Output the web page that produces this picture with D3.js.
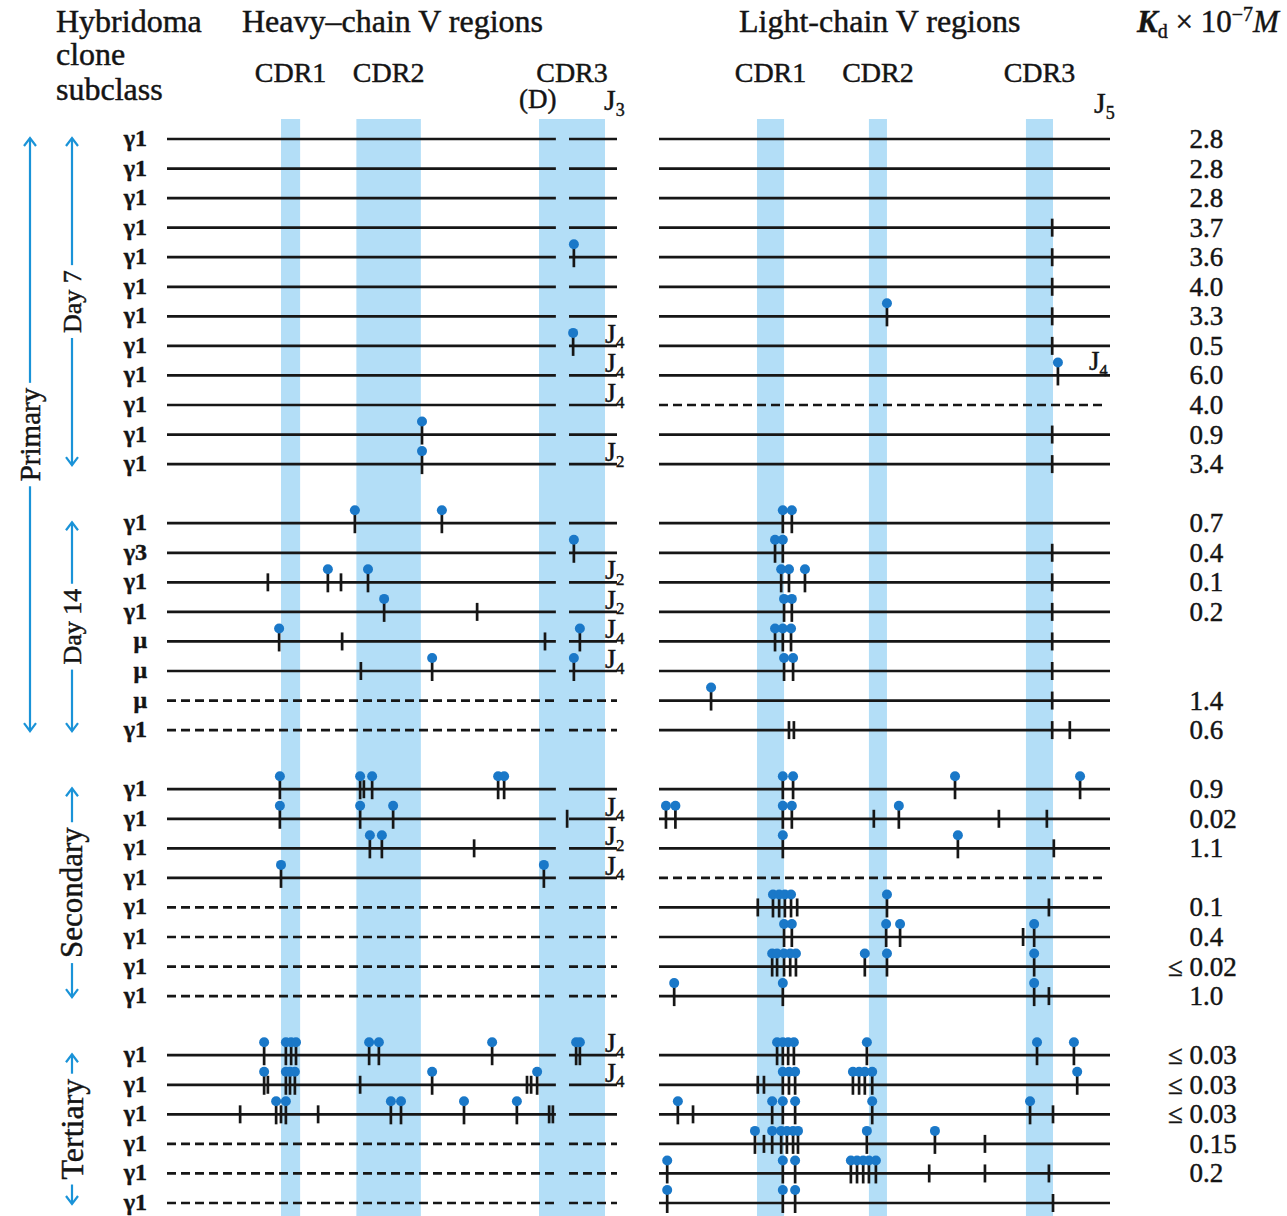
<!DOCTYPE html>
<html>
<head>
<meta charset="utf-8">
<script src="https://cdn.jsdelivr.net/npm/d3@7"></script>
<style>
  body { margin: 0; background: #fff; }
  svg { display: block; }
  text { font-family: "Liberation Serif", "Times New Roman", serif; fill: #141414; stroke: #141414; stroke-width: 0.45px; }
</style>
</head>
<body>
<svg id="chart" width="1287" height="1216"></svg>
<script>
// Hybridoma clones, one entry per row (top to bottom)
const subclasses = [
  'γ1','γ1','γ1','γ1','γ1','γ1','γ1','γ1','γ1','γ1','γ1','γ1',
  'γ1','γ3','γ1','γ1','μ','μ','μ','γ1',
  'γ1','γ1','γ1','γ1','γ1','γ1','γ1','γ1',
  'γ1','γ1','γ1','γ1','γ1','γ1'
];
const kdValues = [
  '2.8','2.8','2.8','3.7','3.6','4.0','3.3','0.5','6.0','4.0','0.9','3.4',
  '0.7','0.4','0.1','0.2','','','1.4','0.6',
  '0.9','0.02','1.1','','0.1','0.4','≤ 0.02','1.0',
  '≤ 0.03','≤ 0.03','≤ 0.03','0.15','0.2',''
];
const groupNames = ['Day 7', 'Day 14', 'Secondary', 'Tertiary'];
const groupSizes = [12, 8, 8, 6];

// rows whose sequence is only partly known (dashed)
const heavyDashed = [18, 19, 24, 25, 26, 27, 31, 32, 33];
const lightDashed = [9, 23];

// CDR positions along each V region (codon-like units)
const heavyCDR = [[30.4, 35.5], [50.5, 67.7], [99.2, 116.8]];
const lightCDR = [[23.9, 30.5], [51.2, 55.6], [89.5, 96.1]];
const heavyDGap = [103.7, 107.2];

// J segment used, when it differs from the header
const heavyJ = [[7, '4'], [8, '4'], [9, '4'], [11, '2'], [14, '2'], [15, '2'], [16, '4'], [17, '4'],
  [21, '4'], [22, '2'], [23, '4'], [28, '4'], [29, '4']];
const lightJ = [[8, '4']];

// replacement mutations (tick with dot) and silent mutations (plain tick)
const heavyR = [
  [], [], [], [], [108.5], [], [], [108.3], [], [], [68], [68],
  [50.1, 73.3], [108.5], [42.9, 53.6], [57.9], [29.9, 110.1], [70.7, 108.5], [], [],
  [30.1, 51.5, 54.7, 88.3, 89.9], [30.1, 51.5, 60.3], [54.1, 57.3], [30.4, 100.5], [], [], [], [],
  [25.9, 31.7, 33.1, 34.4, 53.9, 56.5, 86.7, 109.1, 110.1], [25.9, 31.7, 32.8, 34.1, 70.7, 98.7],
  [29.1, 31.7, 59.7, 62.4, 79.2, 93.3], [], [], []
];
const heavyS = [
  [], [], [], [], [], [], [], [], [], [], [], [],
  [], [], [26.9, 46.4], [82.7], [46.7, 100.8], [51.7], [], [],
  [52.5], [106.7], [81.9], [], [], [], [], [],
  [], [26.9, 51.5, 96, 97.1], [19.5, 30.4, 40.3, 101.9, 102.9], [], [], []
];
const lightR = [
  [], [], [], [], [], [], [55.6], [], [97.3], [], [], [],
  [30.2, 32.4], [28.3, 30.2], [29.8, 31.7, 35.6], [30.5, 32.4], [28.3, 30.2, 32.2], [30.5, 32.7], [12.7], [],
  [30.2, 32.7, 72.2, 102.7], [1.7, 4, 30.2, 32.4, 58.5], [30.2, 72.9], [], [27.8, 29.3, 30.7, 32.2, 55.6],
  [30.5, 32.4, 55.4, 58.8, 91.5], [27.6, 28.8, 30.5, 32, 33.4, 50.2, 55.6, 91.5], [3.7, 30.2, 91.5],
  [28.8, 30.2, 31.5, 32.9, 50.7, 92.2, 101.2], [30.2, 31.7, 33.2, 47.3, 48.8, 50.2, 52, 102],
  [4.6, 27.6, 30.2, 33.2, 52, 90.5], [23.4, 27.6, 29.8, 31.2, 32.7, 33.9, 50.7, 67.3],
  [2, 30.2, 33.2, 46.8, 48.3, 49.8, 51.2, 52.9], [2, 30.2, 33.2]
];
const lightS = [
  [], [], [], [95.9], [95.9], [95.9], [95.9], [95.9], [], [], [95.9], [95.9],
  [], [95.9], [95.9], [95.9], [95.9], [95.9], [95.9], [31.7, 32.9, 95.9, 100.2],
  [], [52.4, 82.9, 94.6], [96.3], [], [24.1, 33.7, 95.1], [88.8], [], [95.1],
  [], [24.1, 25.6], [8.3, 96.1], [25.6, 79.5], [65.9, 79.5, 95.1], [96.1]
];

const svg = d3.select('#chart');
const ink = '#161616';
const blue = '#1a93d8';

// one empty slot between groups
const rowSlot = [];
groupSizes.forEach((n, g) => {
  for (let i = 0; i < n; i++) rowSlot.push(rowSlot.length + g);
});

const y = d3.scaleLinear().domain([0, 36]).range([139, 1203]);
const rowY = r => y(rowSlot[r]);
const hx = d3.scaleLinear().domain([0, 120]).range([167, 617]);
const lx = d3.scaleLinear().domain([0, 110]).range([659, 1110]);

// CDR bands
const bands = svg.append('g');
const bandTop = 119, bandBottom = 1216;
[[heavyCDR, hx], [lightCDR, lx]].forEach(([cdrs, x]) => {
  bands.selectAll(null)
    .data(cdrs)
    .enter()
    .append('rect')
    .attr('x', d => x(d[0]))
    .attr('width', d => x(d[1]) - x(d[0]))
    .attr('y', bandTop)
    .attr('height', bandBottom - bandTop)
    .attr('fill', '#b3def7');
});

// sequence lines
const rows = d3.range(subclasses.length);
const lineG = svg.append('g').attr('stroke', ink).attr('stroke-width', 2.7);

const heavySegs = rows.flatMap(r => [[0, heavyDGap[0]], [heavyDGap[1], 120]].map(s => ({ r, s })));
lineG.selectAll(null)
  .data(heavySegs)
  .enter()
  .append('line')
  .attr('x1', d => hx(d.s[0]))
  .attr('x2', d => hx(d.s[1]))
  .attr('y1', d => rowY(d.r))
  .attr('y2', d => rowY(d.r))
  .attr('stroke-dasharray', d => heavyDashed.includes(d.r) ? '9,5' : null);

lineG.selectAll(null)
  .data(rows)
  .enter()
  .append('line')
  .attr('x1', lx(0))
  .attr('x2', d => lightDashed.includes(d) ? lx(109) : lx(110))
  .attr('y1', d => rowY(d))
  .attr('y2', d => rowY(d))
  .attr('stroke-dasharray', d => lightDashed.includes(d) ? '9,5' : null);

// mutations
const flat = (arr, x, type) => arr.flatMap((ps, r) => ps.map(p => ({ r, px: x(p), type })));
const marks = [
  ...flat(heavyS, hx, 'S'), ...flat(lightS, lx, 'S'),
  ...flat(heavyR, hx, 'R'), ...flat(lightR, lx, 'R')
];

const markG = svg.append('g');
markG.selectAll(null)
  .data(marks)
  .enter()
  .append('line')
  .attr('x1', d => d.px)
  .attr('x2', d => d.px)
  .attr('y1', d => rowY(d.r) + (d.type === 'R' ? -13 : -9))
  .attr('y2', d => rowY(d.r) + (d.type === 'R' ? 10 : 9))
  .attr('stroke', ink)
  .attr('stroke-width', 2.7);

markG.selectAll(null)
  .data(marks.filter(d => d.type === 'R'))
  .enter()
  .append('circle')
  .attr('cx', d => d.px)
  .attr('cy', d => rowY(d.r) - 13)
  .attr('r', 5)
  .attr('fill', '#1a78c8');

// J segment labels
const jLabel = (sel, x, yPos, sub, size) => {
  const t = sel.append('text').attr('x', x).attr('y', yPos).style('font-size', size + 'px');
  t.append('tspan').text('J');
  t.append('tspan').attr('dy', size * 0.2).style('font-size', (size * 0.6) + 'px').text(sub);
};
heavyJ.forEach(([r, j]) => jLabel(svg, 605, rowY(r) - 3, j, 28));
lightJ.forEach(([r, j]) => jLabel(svg, 1089, rowY(r) - 5, j, 27));

// row labels
svg.append('g')
  .selectAll('text')
  .data(rows)
  .enter()
  .append('text')
  .attr('x', 147)
  .attr('y', d => rowY(d) + 7)
  .attr('text-anchor', 'end')
  .style('font-size', '24px')
  .style('font-weight', 'bold')
  .text(d => subclasses[d]);

// Kd values, aligned on the decimal point
const kdG = svg.append('g').style('font-size', '27px');
const kdX = 1203;
rows.filter(r => kdValues[r] !== '').forEach(r => {
  const [a, b] = kdValues[r].split('.');
  kdG.append('text').attr('x', kdX).attr('y', rowY(r) + 9).attr('text-anchor', 'end').text(a);
  kdG.append('text').attr('x', kdX).attr('y', rowY(r) + 9).text('.' + b);
});

// headers
const header = svg.append('g').style('font-size', '32px');
header.append('text').attr('x', 56).attr('y', 32).text('Hybridoma');
header.append('text').attr('x', 56).attr('y', 65).text('clone');
header.append('text').attr('x', 56).attr('y', 100).text('subclass');
header.append('text').attr('x', 242).attr('y', 32).text('Heavy–chain V regions');
header.append('text').attr('x', 739).attr('y', 32).text('Light-chain V regions');

const kdHead = header.append('text').attr('x', 1137).attr('y', 32).style('font-size', '31px');
kdHead.append('tspan').style('font-style', 'italic').style('font-weight', 'bold').text('K');
kdHead.append('tspan').attr('dy', 6).style('font-size', '20px').text('d');
kdHead.append('tspan').attr('dy', -6).text(' × 10');
kdHead.append('tspan').attr('dy', -11).style('font-size', '20px').text('−7');
kdHead.append('tspan').attr('dy', 11).style('font-style', 'italic').text('M');

const cdrNames = ['CDR1', 'CDR2', 'CDR3'];
[[heavyCDR, hx], [lightCDR, lx]].forEach(([cdrs, x]) => {
  svg.append('g').selectAll('text')
    .data(cdrs)
    .enter()
    .append('text')
    .attr('x', d => x((d[0] + d[1]) / 2))
    .attr('y', 82)
    .attr('text-anchor', 'middle')
    .style('font-size', '28px')
    .text((d, i) => cdrNames[i]);
});
svg.append('text').attr('x', 519).attr('y', 108).style('font-size', '27px').text('(D)');
jLabel(svg, 604, 110, '3', 30);
jLabel(svg, 1094, 113, '5', 30);

// group arrows on the left
const arrowG = svg.append('g');
const drawArrow = (x, y1, y2, label, size) => {
  const g = arrowG.append('g');
  g.append('line').attr('x1', x).attr('x2', x).attr('y1', y1).attr('y2', y2)
    .attr('stroke', blue).attr('stroke-width', 2.2);
  g.append('path')
    .attr('d', `M${x - 6},${y1 + 8}L${x},${y1}L${x + 6},${y1 + 8}M${x - 6},${y2 - 8}L${x},${y2}L${x + 6},${y2 - 8}`)
    .attr('fill', 'none').attr('stroke', blue).attr('stroke-width', 2.2);
  const cy = (y1 + y2) / 2;
  const t = g.append('text')
    .attr('transform', `translate(${x},${cy}) rotate(-90)`)
    .attr('text-anchor', 'middle')
    .attr('dy', '0.33em')
    .style('font-size', size + 'px')
    .text(label);
  const w = t.node().getComputedTextLength();
  g.insert('rect', 'text')
    .attr('x', x - 15).attr('width', 30)
    .attr('y', cy - w / 2 - 5).attr('height', w + 10)
    .attr('fill', '#fff');
};

let start = 0;
const groupFont = [26, 26, 31, 32];
groupSizes.forEach((n, g) => {
  drawArrow(72, rowY(start) - 1, rowY(start + n - 1) + 1, groupNames[g], groupFont[g]);
  start += n;
});
drawArrow(30, rowY(0) - 1, rowY(19) + 1, 'Primary', 29);
</script>
</body>
</html>
